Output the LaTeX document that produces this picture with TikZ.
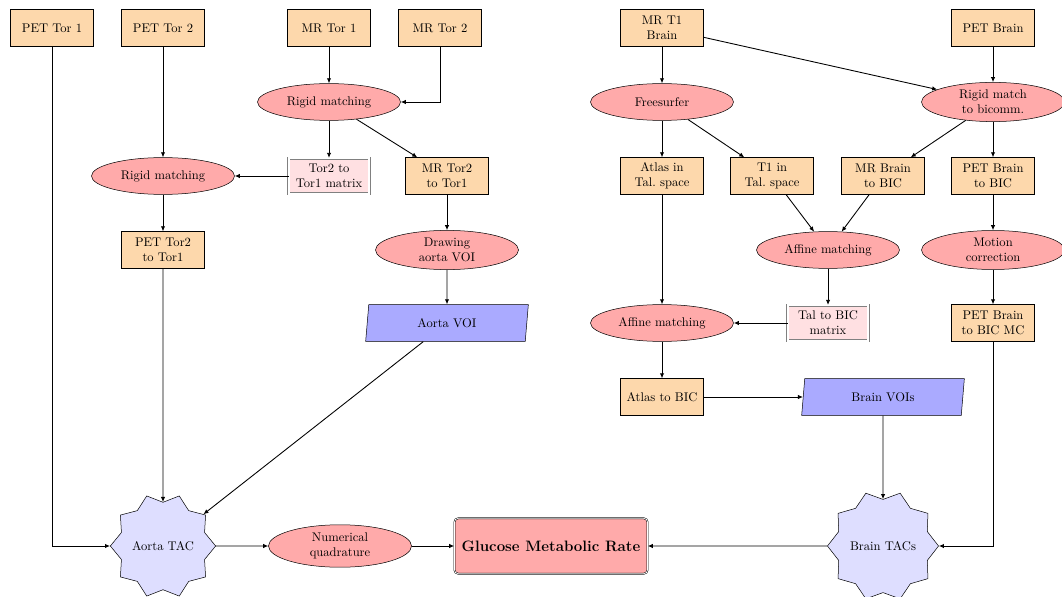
\documentclass[tikz,border=0pt]{standalone}
\usepackage{tikz}
\usetikzlibrary{arrows.meta,shapes.geometric}
\definecolor{dataorange}{RGB}{253,216,172}
\definecolor{procred}{RGB}{255,170,170}
\definecolor{matpink}{RGB}{255,224,226}
\definecolor{voiblue}{RGB}{170,170,255}
\definecolor{tacblue}{RGB}{222,222,255}

\begin{document}
\begin{tikzpicture}[x=0.02797cm, y=-0.02797cm,
    databox/.style={rectangle, draw, fill=dataorange, minimum width=2.32cm, minimum height=1.03cm, align=center, inner sep=2pt},
    procell/.style={ellipse, draw, fill=procred, minimum width=4cm, minimum height=1.03cm, align=center, inner sep=1.5pt},
    matbox/.style={rectangle, draw=gray, double, double distance=1.5pt, fill=matpink, minimum width=2.25cm, minimum height=1.0cm, align=center, inner sep=2pt},
    voibox/.style={trapezium, trapezium left angle=80, trapezium right angle=100, trapezium stretches body, draw, fill=voiblue, minimum width=4.55cm, minimum height=1.03cm},
    tacstar/.style={star, star points=10, star point height=0.25cm, shape border rotate=90, draw, fill=tacblue, minimum size=2.84cm, inner sep=0pt},
    resultbox/.style={rectangle, rounded corners=3pt, double, draw, fill=procred, minimum width=5.4cm, minimum height=1.55cm, font=\large\bfseries},
    flow/.style={-{Latex[length=4pt,width=3.5pt]}, line width=0.7pt}]
    \useasboundingbox (0,0) rectangle (1062,597);
    % Inputs
    \node[databox] (pettor1) at (52,28) {PET Tor 1};
    \node[databox] (pettor2) at (163,28) {PET Tor 2};
    \node[databox] (mrtor1) at (329,28) {MR Tor 1};
    \node[databox] (mrtor2) at (440,28) {MR Tor 2};
    \node[databox] (mrt1) at (662,28) {MR T1\\Brain};
    \node[databox] (petbrain) at (993,28) {PET Brain};
    % Aorta branch
    \node[procell] (rigid1) at (329,102) {Rigid matching};
    \node[procell] (rigid2) at (163,176) {Rigid matching};
    \node[matbox] (tormat) at (329,176) {Tor2 to\\Tor1 matrix};
    \node[databox] (mrtor2to1) at (447,176) {MR Tor2\\to Tor1};
    \node[databox] (pettor2to1) at (163,250) {PET Tor2\\to Tor1};
    \node[procell] (drawvoi) at (447,250) {Drawing\\aorta VOI};
    \node[voibox] (aortavoi) at (447,323) {Aorta VOI};
    % Brain branch
    \node[procell] (freesurfer) at (662,102) {Freesurfer};
    \node[procell] (rigidbic) at (993,102) {Rigid match\\to bicomm.};
    \node[databox] (atlastal) at (662,176) {Atlas in\\Tal.\ space};
    \node[databox] (t1tal) at (772,176) {T1 in\\Tal.\ space};
    \node[databox] (mrbic) at (883,176) {MR Brain\\to BIC};
    \node[databox] (petbic) at (993,176) {PET Brain\\to BIC};
    \node[procell] (affine1) at (828,250) {Affine matching};
    \node[procell] (motion) at (993,250) {Motion\\correction};
    \node[procell] (affine2) at (662,323) {Affine matching};
    \node[matbox] (talmat) at (828,323) {Tal to BIC\\matrix};
    \node[databox] (petbicmc) at (993,323) {PET Brain\\to BIC MC};
    \node[databox] (atlasbic) at (662,397) {Atlas to BIC};
    \node[voibox] (brainvoi) at (883,397) {Brain VOIs};
    % Outputs
    \node[tacstar] (aortatac) at (163,546) {Aorta TAC};
    \node[procell] (quad) at (340,546) {Numerical\\quadrature};
    \node[resultbox] (gmr) at (551,546) {Glucose Metabolic Rate};
    \node[tacstar] (braintac) at (883,546) {Brain TACs};
    % Aorta connectors
    \draw[flow] (mrtor1) -- (rigid1);
    \draw[flow] (mrtor2) |- (rigid1);
    \draw[flow] (rigid1) -- (tormat);
    \draw[flow] (rigid1) -- (mrtor2to1);
    \draw[flow] (pettor2) -- (rigid2);
    \draw[flow] (tormat) -- (rigid2);
    \draw[flow] (rigid2) -- (pettor2to1);
    \draw[flow] (mrtor2to1) -- (drawvoi);
    \draw[flow] (drawvoi) -- (aortavoi);
    \draw[flow] (pettor2to1) -- (aortatac);
    \draw[flow] (pettor1) |- (aortatac);
    \draw[flow] (aortavoi) -- (aortatac);
    \draw[flow] (aortatac) -- (quad);
    \draw[flow] (quad) -- (gmr);
    % Brain connectors
    \draw[flow] (mrt1) -- (freesurfer);
    \draw[flow] (mrt1) -- (rigidbic);
    \draw[flow] (petbrain) -- (rigidbic);
    \draw[flow] (freesurfer) -- (atlastal);
    \draw[flow] (freesurfer) -- (t1tal);
    \draw[flow] (rigidbic) -- (mrbic);
    \draw[flow] (rigidbic) -- (petbic);
    \draw[flow] (t1tal) -- (affine1);
    \draw[flow] (mrbic) -- (affine1);
    \draw[flow] (petbic) -- (motion);
    \draw[flow] (motion) -- (petbicmc);
    \draw[flow] (affine1) -- (talmat);
    \draw[flow] (talmat) -- (affine2);
    \draw[flow] (atlastal) -- (affine2);
    \draw[flow] (affine2) -- (atlasbic);
    \draw[flow] (atlasbic) -- (brainvoi);
    \draw[flow] (brainvoi) -- (braintac);
    \draw[flow] (petbicmc) |- (braintac);
    \draw[flow] (braintac) -- (gmr);
\end{tikzpicture}
\end{document}
